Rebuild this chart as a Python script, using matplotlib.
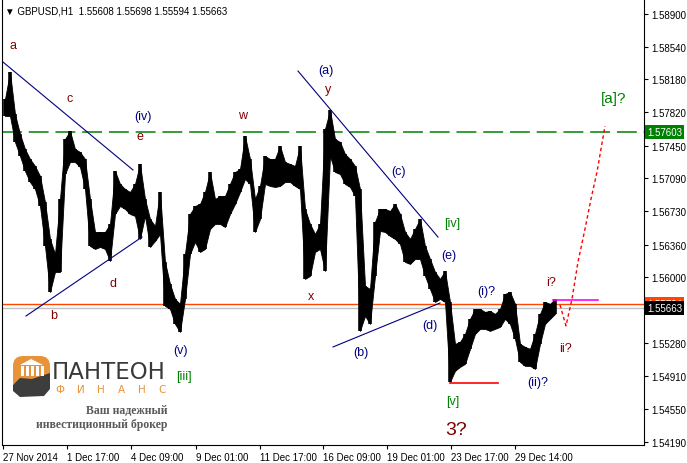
import matplotlib
matplotlib.use("Agg")
import matplotlib.pyplot as plt
from matplotlib.patches import FancyBboxPatch, Polygon, Rectangle
from matplotlib.transforms import blended_transform_factory

# GBPUSD H1, high/low in 5-bar steps
BIN = 5
highs = [
    1.57963, 1.58260, 1.57798, 1.57578, 1.57413, 1.57303, 1.57226, 1.57116, 1.56830, 1.56423,
    1.56258, 1.56863, 1.57523, 1.57611, 1.57413, 1.57380, 1.57303, 1.56863, 1.56500, 1.56500,
    1.56500, 1.56588, 1.57171, 1.57028, 1.56973, 1.56940, 1.57028, 1.57248, 1.56863, 1.56643,
    1.56566, 1.56940, 1.56170, 1.55928, 1.55763, 1.55708, 1.56258, 1.56698, 1.56786, 1.56808,
    1.56940, 1.57160, 1.56863, 1.56896, 1.56896, 1.57028, 1.57160, 1.57193, 1.57556, 1.57303,
    1.56863, 1.57006, 1.57336, 1.57303, 1.57303, 1.57446, 1.57270, 1.57248, 1.57226, 1.57446,
    1.56753, 1.56588, 1.56478, 1.56588, 1.57633, 1.57842, 1.57523, 1.57490, 1.57358, 1.57303,
    1.57226, 1.56973, 1.55906, 1.55873, 1.56610, 1.56753, 1.56753, 1.56731, 1.56808, 1.56698,
    1.56500, 1.56423, 1.56533, 1.56643, 1.56346, 1.56203, 1.56060, 1.55983, 1.56071, 1.55730,
    1.55268, 1.55290, 1.55378, 1.55543, 1.55653, 1.55653, 1.55620, 1.55631, 1.55598, 1.55653,
    1.55818, 1.55840, 1.55708, 1.55268, 1.55235, 1.55213, 1.55378, 1.55598, 1.55730, 1.55708,
    1.55763,
]
lows = [
    1.57776, 1.57776, 1.57490, 1.57336, 1.57171, 1.57050, 1.56973, 1.56786, 1.56346, 1.55840,
    1.56060, 1.56060, 1.57138, 1.57270, 1.57270, 1.57215, 1.56973, 1.56346, 1.56313, 1.56335,
    1.56313, 1.56181, 1.56698, 1.56786, 1.56753, 1.56698, 1.56676, 1.56423, 1.56676, 1.56335,
    1.56401, 1.56478, 1.55686, 1.55653, 1.55488, 1.55400, 1.55763, 1.56258, 1.56390, 1.56280,
    1.56313, 1.56533, 1.56588, 1.56588, 1.56555, 1.56698, 1.56808, 1.56940, 1.57083, 1.57028,
    1.56500, 1.56643, 1.57028, 1.57006, 1.56995, 1.57006, 1.57050, 1.57050, 1.57006, 1.56973,
    1.55983, 1.56016, 1.56280, 1.56313, 1.56071, 1.57336, 1.57160, 1.57138, 1.57028, 1.56995,
    1.56896, 1.55411, 1.55576, 1.55488, 1.56016, 1.56511, 1.56500, 1.56456, 1.56423, 1.56368,
    1.56170, 1.56148, 1.56203, 1.56203, 1.56016, 1.55873, 1.55730, 1.55763, 1.55730, 1.54850,
    1.54971, 1.55015, 1.55048, 1.55213, 1.55378, 1.55433, 1.55433, 1.55411, 1.55433, 1.55455,
    1.55543, 1.55488, 1.55323, 1.55070, 1.55026, 1.55026, 1.54993, 1.55268, 1.55488, 1.55543,
    1.55598,
]

y_ticks = [1.58900, 1.58540, 1.58180, 1.57820, 1.57450, 1.57090, 1.56730, 1.56360,
           1.56000, 1.55280, 1.54910, 1.54550, 1.54190]
x_tick_bars = [0, 64, 128, 193, 257, 320, 384, 448, 512]
x_tick_labels = ["27 Nov 2014", "1 Dec 17:00", "4 Dec 09:00", "9 Dec 01:00", "11 Dec 17:00",
                 "16 Dec 09:00", "19 Dec 01:00", "23 Dec 17:00", "29 Dec 14:00"]

level_target = 1.57603
level_ask = 1.55704
level_bid = 1.55663
level_magenta = 1.55746
level_low = 1.54838

# trend lines: (bar0, price0, bar1, price1)
trend_lines = [
    (0, 1.58370, 130, 1.57182),
    (23, 1.55575, 139, 1.56444),
    (295, 1.58271, 435, 1.56444),
    (330, 1.55234, 437, 1.55718),
]
proj_bars = [557, 563, 569, 575, 582, 588, 594, 602]
proj_prices = [1.55697, 1.55466, 1.55763, 1.56170, 1.56533, 1.56863, 1.57160, 1.57666]

MAROON = "#800000"
NAVY = "#000080"
GREEN = "#008000"
wave_labels = [
    ("a", 10, 1.58557, MAROON), ("b", 51, 1.55586, MAROON), ("c", 67, 1.57974, MAROON),
    ("d", 110, 1.55938, MAROON), ("e", 137, 1.57556, MAROON), ("(iv)", 140, 1.57776, NAVY),
    ("(v)", 178, 1.55201, NAVY), ("[iii]", 181, 1.54915, GREEN), ("w", 240, 1.57787, MAROON),
    ("x", 308, 1.55795, MAROON), ("(a)", 323, 1.58282, NAVY), ("y", 325, 1.58073, MAROON),
    ("(b)", 358, 1.55179, NAVY), ("(c)", 396, 1.57171, NAVY), ("[iv]", 449, 1.56598, GREEN),
    ("(e)", 446, 1.56246, NAVY), ("(d)", 427, 1.55476, NAVY), ("(i)?", 483, 1.55850, NAVY),
    ("[v]", 450, 1.54640, GREEN), ("(ii)?", 535, 1.54850, NAVY), ("i?", 548, 1.55949, MAROON),
    ("ii?", 563, 1.55223, MAROON),
]

W, H = 687, 464
fig = plt.figure(figsize=(W / 100, H / 100), dpi=100)
fig.patch.set_facecolor("white")
ax = fig.add_axes([2 / W, 1 - 446 / H, 642 / W, 445 / H])
ax.set_xlim(-1, 641)
ax.set_ylim(1.54155, 1.59053)

# price bars: band between highs and lows plus the bars themselves
xs = [k * BIN + (BIN - 1) / 2 for k in range(len(highs))]
ax.fill_between(xs, lows, highs, color="black", lw=0.6, zorder=3)
ax.vlines(xs, lows, highs, color="black", linewidth=2.6, capstyle="butt", zorder=3)

# horizontal levels
ax.axhline(level_target, color=GREEN, lw=1.1, dashes=(13, 4.5), zorder=2)
ax.axhline(level_bid, color="#C0C0C0", lw=1.0, zorder=2)
ax.axhline(level_ask, color="#FF4500", lw=1.0, zorder=2)
ax.plot([550, 595], [level_magenta, level_magenta], color="#FF00FF", lw=1.2, zorder=4)
ax.plot([447, 495], [level_low, level_low], color="red", lw=1.2, zorder=4)

for b0, p0, b1, p1 in trend_lines:
    ax.plot([b0, b1], [p0, p1], color=NAVY, lw=0.8, zorder=4)

ax.plot(proj_bars, proj_prices, color="red", lw=1.0, dashes=(2.5, 2), zorder=4)

lab_font = "Liberation Sans"
for txt, b, p, col in wave_labels:
    ax.text(b, p, txt, color=col, fontsize=9, ha="center", va="center", family=lab_font, zorder=5)
ax.text(453, 1.54331, "3?", color=MAROON, fontsize=14, ha="center", va="center",
        family=lab_font, zorder=5)
ax.text(611, 1.57974, "[a]?", color=GREEN, fontsize=11, ha="center", va="center",
        family=lab_font, zorder=5)

# axes styling
ax.yaxis.tick_right()
ax.set_yticks(y_ticks)
ax.set_yticklabels([f"{v:.5f}" for v in y_ticks], family=lab_font)
ax.set_xticks(x_tick_bars)
ax.set_xticklabels(x_tick_labels, family=lab_font)
for lbl in ax.get_xticklabels():
    lbl.set_horizontalalignment("left")
ax.tick_params(axis="both", direction="out", length=3, width=0.8, labelsize=7, colors="black")
ax.tick_params(axis="y", pad=2)
ax.tick_params(axis="x", pad=2)
for sp in ax.spines.values():
    sp.set_linewidth(0.8)
ax.spines["top"].set_visible(False)

# price tags on right scale
tr = blended_transform_factory(ax.transAxes, ax.transData)
tag = dict(fontsize=7, color="white", ha="left", va="center", transform=tr, clip_on=False,
           zorder=6, family=lab_font)
ax.text(1.005, level_target, "1.57603",
        bbox=dict(boxstyle="square,pad=0.2", fc="#008000", ec="none"), **tag)
ax.text(1.005, level_ask + 0.00006, "1.55704",
        bbox=dict(boxstyle="square,pad=0.2", fc="#FF4500", ec="none"), **tag)
ax.text(1.005, level_bid, "1.55663",
        bbox=dict(boxstyle="square,pad=0.2", fc="black", ec="none"), **tag)

# header
fig.text(5 / W, 1 - 11 / H, "\u25BC GBPUSD,H1  1.55608 1.55698 1.55594 1.55663", fontsize=7,
         color="black", ha="left", va="center", family=["Liberation Sans", "DejaVu Sans"])

# logo in pixel space
lg = fig.add_axes([0, 0, 1, 1], zorder=10)
lg.set_xlim(0, W)
lg.set_ylim(H, 0)
lg.axis("off")
lg.patch.set_alpha(0)
lg.add_patch(FancyBboxPatch((13, 357), 37, 36, boxstyle="round,pad=0,rounding_size=10",
                            fc="#E8923A", ec="none"))
lg.add_patch(Polygon([(13, 386), (20, 379), (32, 380), (50, 374), (50, 390), (44, 397),
                      (20, 398), (13, 392)], closed=True, fc="#3D3D3D", ec="none"))
lg.add_patch(Polygon([(20, 366), (31, 360), (43, 366)], closed=True, fc="white", ec="none"))
for cx in (21, 26, 31, 36, 41):
    lg.add_patch(Rectangle((cx, 367), 2.5, 10, fc="white", ec="none"))
lg.text(52, 379, "ПАНТЕОН", fontsize=16.5, color="#3A3A3A", ha="left", va="baseline",
        family="DejaVu Sans")
for i, ch in enumerate("ФИНАНС"):
    lg.text(60 + i * 20.5, 390, ch, fontsize=7.5, color="#E8923A", ha="center", va="center",
            family="DejaVu Sans")
lg.text(167, 411, "Ваш надежный", fontsize=8.5, color="#5A5A5A", ha="right", va="center",
        family="Liberation Serif", weight="bold")
lg.text(167, 425, "инвестиционный брокер", fontsize=8.5, color="#5A5A5A", ha="right",
        va="center", family="Liberation Serif", weight="bold")

fig.savefig("out.png", dpi=100)
